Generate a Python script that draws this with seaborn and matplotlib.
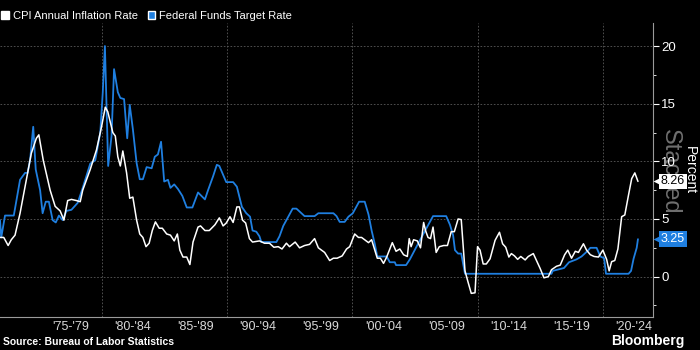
import numpy as np
import pandas as pd
import matplotlib
matplotlib.use("Agg")
import matplotlib.pyplot as plt
import matplotlib.transforms as mtransforms
from matplotlib.patches import Patch
from matplotlib.ticker import MultipleLocator
import seaborn as sns

# Données (année décimale, pourcentage)
cpi_dates = [1971.9, 1972.2, 1972.55, 1972.8, 1973.1, 1973.5, 1974.0, 1974.4, 1974.8, 1975.0,
             1975.35, 1975.9, 1976.3, 1976.7, 1977.0, 1977.3, 1977.6, 1978.0, 1978.3, 1978.5,
             1979.1, 1979.6, 1980.0, 1980.3, 1980.5, 1980.9, 1981.1, 1981.3, 1981.5, 1981.7,
             1982.0, 1982.25, 1982.5, 1982.8, 1983.05, 1983.3, 1983.55, 1983.8, 1984.05, 1984.3,
             1984.6, 1984.85, 1985.2, 1985.5, 1985.8, 1986.05, 1986.25, 1986.5, 1986.8, 1987.05,
             1987.3, 1987.7, 1987.9, 1988.25, 1988.6, 1989.05, 1989.4, 1989.7, 1989.95, 1990.25,
             1990.5, 1990.8, 1991.0, 1991.25, 1991.5, 1991.8, 1992.05, 1992.6, 1993.0, 1993.4,
             1993.75, 1994.1, 1994.4, 1994.75, 1995.0, 1995.45, 1995.8, 1996.2, 1996.6, 1997.0,
             1997.3, 1997.55, 1997.8, 1998.2, 1998.5, 1998.8, 1999.2, 1999.55, 1999.8, 2000.2,
             2000.5, 2000.75, 2001.0, 2001.3, 2001.55, 2001.8, 2002.0, 2002.25, 2002.5, 2002.75,
             2003.2, 2003.5, 2003.8, 2004.1, 2004.4, 2004.55, 2004.7, 2004.9, 2005.2, 2005.45,
             2005.7, 2005.85, 2006.05, 2006.25, 2006.45, 2006.7, 2006.95, 2007.3, 2007.6, 2007.9,
             2008.15, 2008.45, 2008.7, 2009.0, 2009.25, 2009.5, 2009.8, 2010.0, 2010.2, 2010.45,
             2010.7, 2011.0, 2011.4, 2011.75, 2012.0, 2012.25, 2012.5, 2012.7, 2012.95, 2013.2,
             2013.45, 2013.8, 2014.05, 2014.45, 2014.75, 2015.0, 2015.3, 2015.65, 2015.9, 2016.3,
             2016.6, 2016.95, 2017.2, 2017.5, 2017.8, 2018.05, 2018.45, 2018.7, 2019.0, 2019.3,
             2019.65, 2020.0, 2020.3, 2020.5, 2020.7, 2020.95, 2021.2, 2021.5, 2021.75, 2022.05,
             2022.3, 2022.55, 2022.8]
cpi_values = [3.4, 3.4, 2.7, 3.2, 3.6, 5.5, 8.4, 10.7, 12.0, 12.3,
              10.1, 7.5, 6.1, 5.7, 4.9, 6.6, 6.7, 6.6, 6.5, 7.5,
              9.3, 11.0, 13.0, 14.7, 14.3, 12.5, 12.2, 10.4, 9.6, 10.9,
              9.0, 6.8, 6.9, 4.9, 3.7, 3.4, 2.6, 2.9, 4.0, 4.75,
              4.2, 4.2, 3.7, 3.6, 3.1, 3.7, 2.3, 1.7, 1.7, 1.05,
              3.0, 4.3, 4.4, 4.0, 4.0, 4.5, 5.1, 4.4, 4.65, 5.2,
              4.7, 6.05, 6.05, 4.9, 4.65, 3.3, 3.0, 3.1, 2.9, 2.9,
              2.55, 2.6, 2.4, 2.9, 2.6, 3.0, 2.5, 2.7, 2.8, 3.3,
              2.5, 2.3, 2.1, 1.4, 1.6, 1.6, 1.8, 2.4, 2.6, 3.7,
              3.4, 3.4, 3.2, 2.95, 3.2, 2.3, 1.6, 1.6, 1.15, 1.7,
              2.95, 2.2, 2.4, 1.9, 1.75, 3.3, 2.6, 3.2, 3.1, 2.5,
              4.7, 4.0, 3.4, 3.3, 4.3, 2.1, 2.6, 2.7, 2.7, 3.9,
              3.9, 5.0, 4.95, 0.5, -0.5, -1.45, -1.4, 2.6, 2.3, 1.1,
              1.1, 1.55, 3.15, 3.85, 2.85, 2.55, 1.7, 2.0, 1.8, 1.5,
              1.75, 1.45, 1.75, 2.0, 1.3, 0.7, -0.1, 0.0, 0.6, 0.9,
              1.0, 1.9, 2.3, 1.6, 2.2, 2.1, 2.85, 2.3, 1.9, 1.75,
              1.7, 2.3, 1.5, 0.5, 1.3, 1.4, 2.4, 5.2, 5.35, 7.1,
              8.5, 9.0, 8.26]

fed_dates = [1971.9, 1972.0, 1972.3, 1973.0, 1973.5, 1973.9, 1974.1, 1974.3, 1974.55, 1974.75,
             1975.1, 1975.3, 1975.55, 1975.8, 1976.1, 1976.35, 1976.6, 1976.9, 1977.2, 1977.6,
             1978.1, 1978.5, 1979.1, 1979.5, 1979.9, 1980.1, 1980.27, 1980.53, 1980.8, 1981.0,
             1981.3, 1981.5, 1981.8, 1982.05, 1982.25, 1982.5, 1982.8, 1983.05, 1983.3, 1983.6,
             1984.0, 1984.25, 1984.5, 1984.75, 1985.0, 1985.3, 1985.5, 1985.8, 1986.1, 1986.45,
             1986.8, 1987.25, 1987.7, 1988.25, 1988.5, 1988.9, 1989.2, 1989.4, 1989.95, 1990.5,
             1990.8, 1991.2, 1991.55, 1991.85, 1992.05, 1992.35, 1992.6, 1992.75, 1993.95, 1994.2,
             1994.5, 1994.8, 1995.25, 1995.55, 1995.95, 1996.2, 1997.0, 1997.3, 1998.5, 1998.75,
             1999.0, 1999.4, 1999.7, 2000.05, 2000.3, 2000.55, 2001.0, 2001.3, 2001.55, 2001.8,
             2002.0, 2002.75, 2003.0, 2003.4, 2003.5, 2004.3, 2004.6, 2005.4, 2006.05, 2006.45,
             2007.5, 2007.8, 2008.05, 2008.2, 2008.45, 2008.7, 2009.0, 2015.9, 2016.0, 2016.9,
             2017.3, 2017.9, 2018.3, 2018.8, 2019.0, 2019.5, 2019.8, 2020.1, 2020.25, 2022.05,
             2022.25, 2022.45, 2022.7, 2022.8]
fed_values = [4.9, 3.4, 5.3, 5.3, 8.4, 9.0, 9.0, 10.1, 13.0, 9.3,
              7.5, 5.5, 6.5, 6.5, 4.9, 4.7, 5.3, 4.9, 5.7, 5.8,
              6.4, 7.7, 9.8, 10.1, 12.5, 16.0, 20.0, 9.6, 12.2, 18.0,
              16.0, 15.5, 15.4, 12.0, 14.9, 12.8, 9.85, 8.45, 8.45, 9.5,
              9.4, 10.4, 10.6, 11.7, 8.25, 8.4, 7.7, 8.0, 7.6, 7.0,
              6.0, 6.0, 7.3, 6.7, 7.5, 8.7, 9.7, 9.6, 8.2, 8.2,
              7.8, 6.05, 5.5, 5.2, 4.0, 3.9, 3.5, 3.0, 3.0, 3.5,
              4.4, 5.0, 5.9, 5.9, 5.5, 5.25, 5.25, 5.5, 5.5, 5.25,
              4.75, 4.75, 5.2, 5.5, 6.0, 6.5, 6.5, 5.4, 4.0, 2.85,
              1.75, 1.75, 1.25, 1.25, 1.0, 1.0, 1.5, 3.15, 4.45, 5.25,
              5.25, 4.5, 3.6, 2.3, 2.0, 2.0, 0.25, 0.25, 0.5, 0.75,
              1.25, 1.5, 1.75, 2.25, 2.5, 2.5, 1.75, 1.6, 0.25, 0.25,
              0.5, 1.55, 2.5, 3.25]

period_starts = [1975, 1980, 1985, 1990, 1995, 2000, 2005, 2010, 2015, 2020]
period_labels = ["'75-'79", "'80-'84", "'85-'89", "'90-'94", "'95-'99",
                 "'00-'04", "'05-'09", "'10-'14", "'15-'19", "'20-'24"]
y_ticks = [0, 5, 10, 15, 20]

BLUE = "#1f7fe0"

sns.set_theme(style="dark", rc={"axes.facecolor": "black", "figure.facecolor": "black"})
plt.rcParams["font.family"] = ["Liberation Sans", "DejaVu Sans"]

cpi = pd.DataFrame({"date": cpi_dates, "value": cpi_values})
fed = pd.DataFrame({"date": fed_dates, "value": fed_values})

fig = plt.figure(figsize=(7, 3.5), dpi=100)
ax = fig.add_axes([0, 1 - 317 / 350, 653 / 700, (317 - 23) / 350])
ax.set_facecolor("black")

sns.lineplot(data=fed, x="date", y="value", color=BLUE, linewidth=1.3, ax=ax)
sns.lineplot(data=cpi, x="date", y="value", color="white", linewidth=1.1, ax=ax)

ax.set_xlim(1971.9, 2024.0)
ax.set_ylim(-3.5, 22)

# grille pointillée
ax.set_yticks(y_ticks)
ax.yaxis.set_minor_locator(MultipleLocator(2.5))
ax.grid(False)
for v in y_ticks:
    ax.axhline(v, color="#5a5a5a", lw=0.6, ls=(0, (2, 2)), zorder=0)
for yr in range(1980, 2021, 10):
    ax.axvline(yr, color="#5a5a5a", lw=0.6, ls=(0, (2, 2)), zorder=0)

# axe Y à droite
ax.yaxis.tick_right()
ax.yaxis.set_label_position("right")
ax.tick_params(axis="y", which="major", colors="white", labelsize=9.5, length=4, width=0.8,
               direction="out", pad=2, right=True, left=False)
ax.tick_params(axis="y", which="minor", colors="white", length=2.5, width=0.6,
               right=True, left=False)
ax.set_ylabel("Percent", rotation=270, color="white", fontsize=10, labelpad=15)

# axe X : bandes de 5 ans
ax.set_xticks(period_starts)
ax.set_xticklabels([])
ax.set_xticks([s + 2.5 for s in period_starts], minor=True)
ax.set_xticklabels(period_labels, minor=True)
ax.tick_params(axis="x", which="major", colors="#8a8a8a", length=12, width=0.8, direction="out")
ax.tick_params(axis="x", which="minor", length=0, labelsize=9, labelcolor="#d8d8d8", pad=3)
ax.set_xlabel("")

for side in ["top", "left"]:
    ax.spines[side].set_visible(False)
for side in ["right", "bottom"]:
    ax.spines[side].set_visible(True)
    ax.spines[side].set_color("#9a9a9a")
    ax.spines[side].set_linewidth(0.8)

# filigrane (derrière les étiquettes)
ax.text(670 / 700, 1 - 172 / 350, "Stacked", rotation=270, color="#6f6f6f",
        fontsize=17, ha="center", va="center", transform=fig.transFigure,
        zorder=0.5, clip_on=False)

# étiquettes des dernières valeurs (forme d'étiquette pointée à gauche)
tag_trans = mtransforms.blended_transform_factory(ax.transAxes, ax.transData)
for val, fc, tc in [(cpi_values[-1], "white", "black"), (fed_values[-1], BLUE, "white")]:
    ax.plot([1.0 + 5 / 653], [val], marker="<", ms=7, color=fc, mec="none",
            transform=tag_trans, clip_on=False, zorder=5)
    ax.annotate(f"{val:.2f}", xy=(1, val), xycoords=("axes fraction", "data"),
                xytext=(5.5, 0), textcoords="offset points", va="center", ha="left",
                fontsize=9, color=tc, annotation_clip=False, zorder=6,
                bbox=dict(boxstyle="square,pad=0.15", fc=fc, ec="none"))

# légende
handles = [Patch(facecolor="white", label="CPI Annual Inflation Rate"),
           Patch(facecolor=BLUE, label="Federal Funds Target Rate")]
fig.legend(handles=handles, loc="lower left", bbox_to_anchor=(0.002, 1 - 21 / 350),
           ncol=2, frameon=False, fontsize=8, labelcolor="white",
           handlelength=0.7, handleheight=0.7, handletextpad=0.3,
           columnspacing=0.9, borderpad=0, borderaxespad=0)

fig.text(3 / 700, 1 - 342 / 350, "Source: Bureau of Labor Statistics", color="white",
         fontsize=7.5, fontweight="bold", ha="left", va="center")
fig.text(684 / 700, 1 - 341 / 350, "Bloomberg", color="white",
         fontsize=10, fontweight="bold", ha="right", va="center")

fig.savefig("out.png", dpi=100, facecolor="black")
